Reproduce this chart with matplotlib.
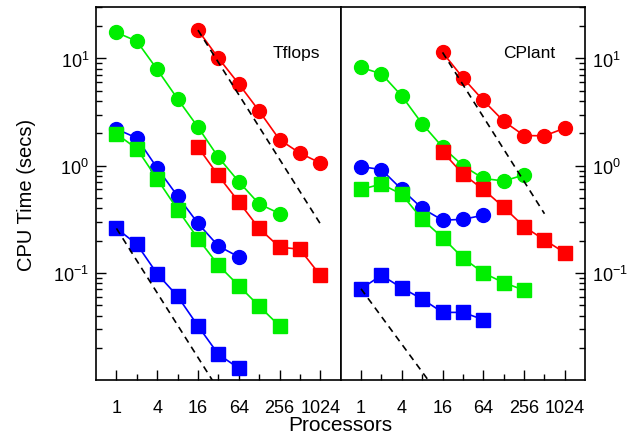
import numpy as np
import matplotlib
matplotlib.use("Agg")
import matplotlib.pyplot as plt
from matplotlib.ticker import LogLocator, FixedLocator, NullFormatter, FixedFormatter

plt.rcParams['font.family'] = ['Liberation Sans', 'DejaVu Sans']
plt.rcParams['mathtext.fontset'] = 'custom'
plt.rcParams['mathtext.rm'] = 'Liberation Sans'

# processor counts
procs = [1, 2, 4, 8, 16, 32, 64, 128, 256, 512, 1024]

# Tflops timings
tf_green_circ = [17.5, 14.5, 7.9, 4.2, 2.29, 1.2, 0.71, 0.44, 0.358]
tf_red_circ = [18.4, 10.1, 5.8, 3.24, 1.75, 1.31, 1.06]          # from 16 procs
tf_red_sq = [1.49, 0.81, 0.46, 0.26, 0.174, 0.166, 0.095]        # from 16 procs
tf_blue_circ = [2.2, 1.81, 0.95, 0.52, 0.29, 0.178, 0.141]
tf_green_sq = [1.98, 1.44, 0.75, 0.39, 0.209, 0.118, 0.076, 0.049, 0.032]
tf_blue_sq = [0.26, 0.185, 0.098, 0.0605, 0.032, 0.0174, 0.0129]

# CPlant timings
cp_red_circ = [11.4, 6.6, 4.06, 2.6, 1.91, 1.9, 2.24]            # from 16 procs
cp_green_circ = [8.24, 7.2, 4.47, 2.46, 1.49, 1.0, 0.76, 0.72, 0.82]
cp_red_sq = [1.35, 0.835, 0.6, 0.41, 0.27, 0.203, 0.154]         # from 16 procs
cp_blue_circ = [0.98, 0.92, 0.6, 0.4, 0.31, 0.316, 0.345]
cp_green_sq = [0.6, 0.675, 0.54, 0.316, 0.213, 0.138, 0.1, 0.081, 0.069]
cp_blue_sq = [0.071, 0.095, 0.0725, 0.057, 0.0428, 0.0428, 0.0366]

# dashed reference lines: (procs, times)
tf_ideal_hi = ([16, 1024], [18.4, 18.4 * 16 / 1024])
tf_ideal_lo = ([1, 32], [0.26, 0.26 / 32])
cp_ideal_hi = ([16, 512], [11.4, 11.4 * 16 / 512])
cp_ideal_lo = ([1, 9.7], [0.071, 0.0101])

RED = '#ff0000'
GREEN = '#00ee00'
BLUE = '#0000ff'

fig = plt.figure(figsize=(6.32, 4.39), dpi=100)
gs = fig.add_gridspec(1, 2, left=0.152, right=0.926, top=0.981, bottom=0.133, wspace=0)
ax1 = fig.add_subplot(gs[0])
ax2 = fig.add_subplot(gs[1], sharey=ax1)


def series(ax, y, color, marker, start=1):
    x = [p for p in procs if p >= start][:len(y)]
    ms = 10 if marker == 'o' else 9.5
    ax.plot(x, y, color=color, marker=marker, ms=ms, lw=1.2, mec=color, mfc=color)


for ax, data, ideal, label, lx in [
        (ax1, [(tf_green_circ, GREEN, 'o', 1), (tf_red_circ, RED, 'o', 16),
               (tf_red_sq, RED, 's', 16), (tf_blue_circ, BLUE, 'o', 1),
               (tf_green_sq, GREEN, 's', 1), (tf_blue_sq, BLUE, 's', 1)],
         [tf_ideal_hi, tf_ideal_lo], 'Tflops', 0.82),
        (ax2, [(cp_green_circ, GREEN, 'o', 1), (cp_red_circ, RED, 'o', 16),
               (cp_red_sq, RED, 's', 16), (cp_blue_circ, BLUE, 'o', 1),
               (cp_green_sq, GREEN, 's', 1), (cp_blue_sq, BLUE, 's', 1)],
         [cp_ideal_hi, cp_ideal_lo], 'CPlant', 0.77)]:
    for xs, ys in ideal:
        ax.plot(xs, ys, color='black', ls=(0, (4, 3)), lw=1.2, zorder=3)
    for y, c, m, s in data:
        series(ax, y, c, m, s)
    ax.set_xscale('log', base=2)
    ax.set_yscale('log')
    ax.set_xlim(0.5, 2048)
    ax.set_ylim(0.0101, 30)
    ax.xaxis.set_major_locator(FixedLocator([1, 4, 16, 64, 256, 1024]))
    ax.xaxis.set_major_formatter(FixedFormatter(['1', '4', '16', '64', '256', '1024']))
    ax.xaxis.set_minor_locator(FixedLocator([2, 8, 32, 128, 512]))
    ax.xaxis.set_minor_formatter(NullFormatter())
    ax.tick_params(axis='x', which='major', direction='in', length=7, width=1, labelsize=13, pad=14)
    ax.tick_params(axis='x', which='minor', direction='in', length=4, width=1)
    ax.text(lx, 0.88, label, transform=ax.transAxes, ha='center', va='center', fontsize=12.5)
    for sp in ax.spines.values():
        sp.set_linewidth(1.2)

ax1.yaxis.set_major_locator(LogLocator(base=10))
ax1.yaxis.set_minor_locator(LogLocator(base=10, subs=np.arange(2, 10)))
ax1.yaxis.set_minor_formatter(NullFormatter())
ax1.tick_params(axis='y', which='major', direction='in', length=7, width=1, labelsize=13, pad=5)
ax1.tick_params(axis='y', which='minor', direction='in', length=4, width=1)
ax2.tick_params(axis='y', which='both', left=False, right=True, labelleft=False, labelright=True,
                direction='in')
ax2.tick_params(axis='y', which='major', length=7, width=1, labelsize=13, pad=5)
ax2.tick_params(axis='y', which='minor', length=4, width=1)

ax1.set_ylabel('CPU Time (secs)', fontsize=14.5, labelpad=12)
fig.text(0.539, 0.03, 'Processors', ha='center', va='center', fontsize=15)

fig.savefig('out.png', dpi=100)
